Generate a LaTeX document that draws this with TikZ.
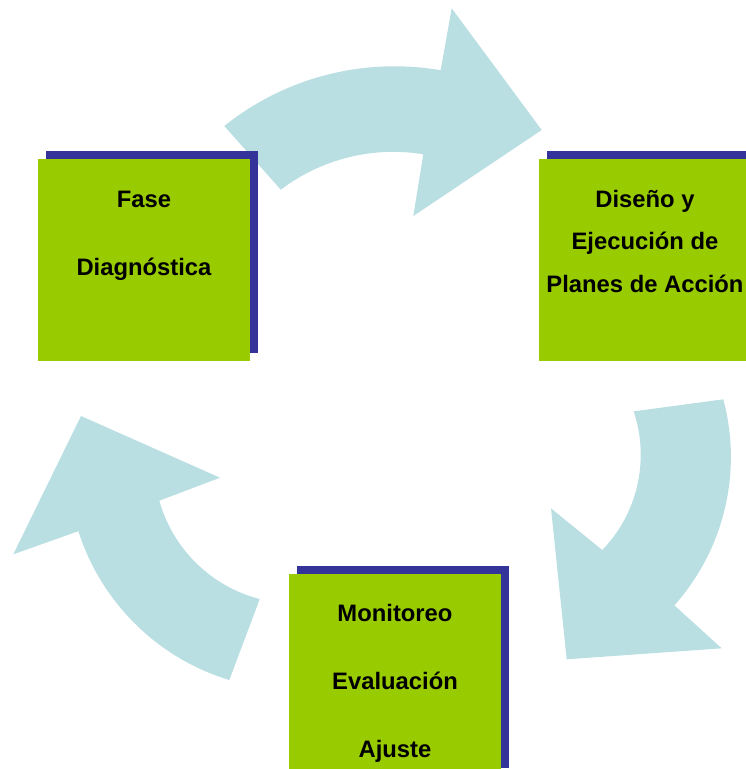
\documentclass[tikz,border=0pt]{standalone}
\usepackage{fontspec}
\setmainfont{Liberation Sans}
\usetikzlibrary{shadows}
\definecolor{arrowblue}{RGB}{186,223,227}
\definecolor{boxgreen}{RGB}{153,204,0}
\definecolor{shadowblue}{RGB}{51,51,153}
\begin{document}
\begin{tikzpicture}[x=1pt,y=1pt]
\tikzstyle{every node}=[font=\fontsize{23.8}{28}\selectfont\bfseries]
\tikzstyle{phase}=[fill=boxgreen, minimum width=212pt, minimum height=202pt, inner sep=0pt, drop shadow={shadow xshift=8pt,shadow yshift=8pt,fill=shadowblue,opacity=1}]
\tikzstyle{line}=[anchor=base, inner sep=0pt]
\tikzstyle{cyclearrow}=[fill=arrowblue]
	\clip (0,0) rectangle (746,-769);

	\fill[cyclearrow] (224.3,-126) arc[start angle=128.7, end angle=80.2, radius=272] -- (451.7,-8.3) -- (541.7,-130) -- (413.3,-216) -- (423.3,-154.3) arc[start angle=80.7, end angle=127.2, radius=186] -- cycle;
	\fill[cyclearrow] (723.3,-399.3) arc[start angle=15, end angle=-41.7, radius=223] -- (721.7,-648.3) -- (566.7,-659.3) -- (551,-508.3) -- (602.3,-550) arc[start angle=-44, end angle=18.5, radius=137] -- cycle;
	\fill[cyclearrow] (229.3,-680) arc[start angle=253.1, end angle=197.7, radius=228] -- (13.3,-554.3) -- (81,-416) -- (220,-477.7) -- (159.3,-500.7) arc[start angle=195.7, end angle=255.5, radius=141] -- cycle;

	\node[phase] (diagbox) at (144,-260) {};
	\node[line] (fase) at (144,-207) {Fase};
	\node[line] (diag) at (144,-275) {Diagnóstica};

	\node[phase] (planbox) at (645,-260) {};
	\node[line] (diseno) at (645,-207) {Diseño y};
	\node[line] (ejec) at (645,-249.5) {Ejecución de};
	\node[line] (planes) at (645,-292) {Planes de Acción};

	\node[phase] (monbox) at (395,-675) {};
	\node[line] (monit) at (395,-621.5) {Monitoreo};
	\node[line] (evalua) at (395,-689.5) {Evaluación};
	\node[line] (ajuste) at (395,-757) {Ajuste};
\end{tikzpicture}
\end{document}
